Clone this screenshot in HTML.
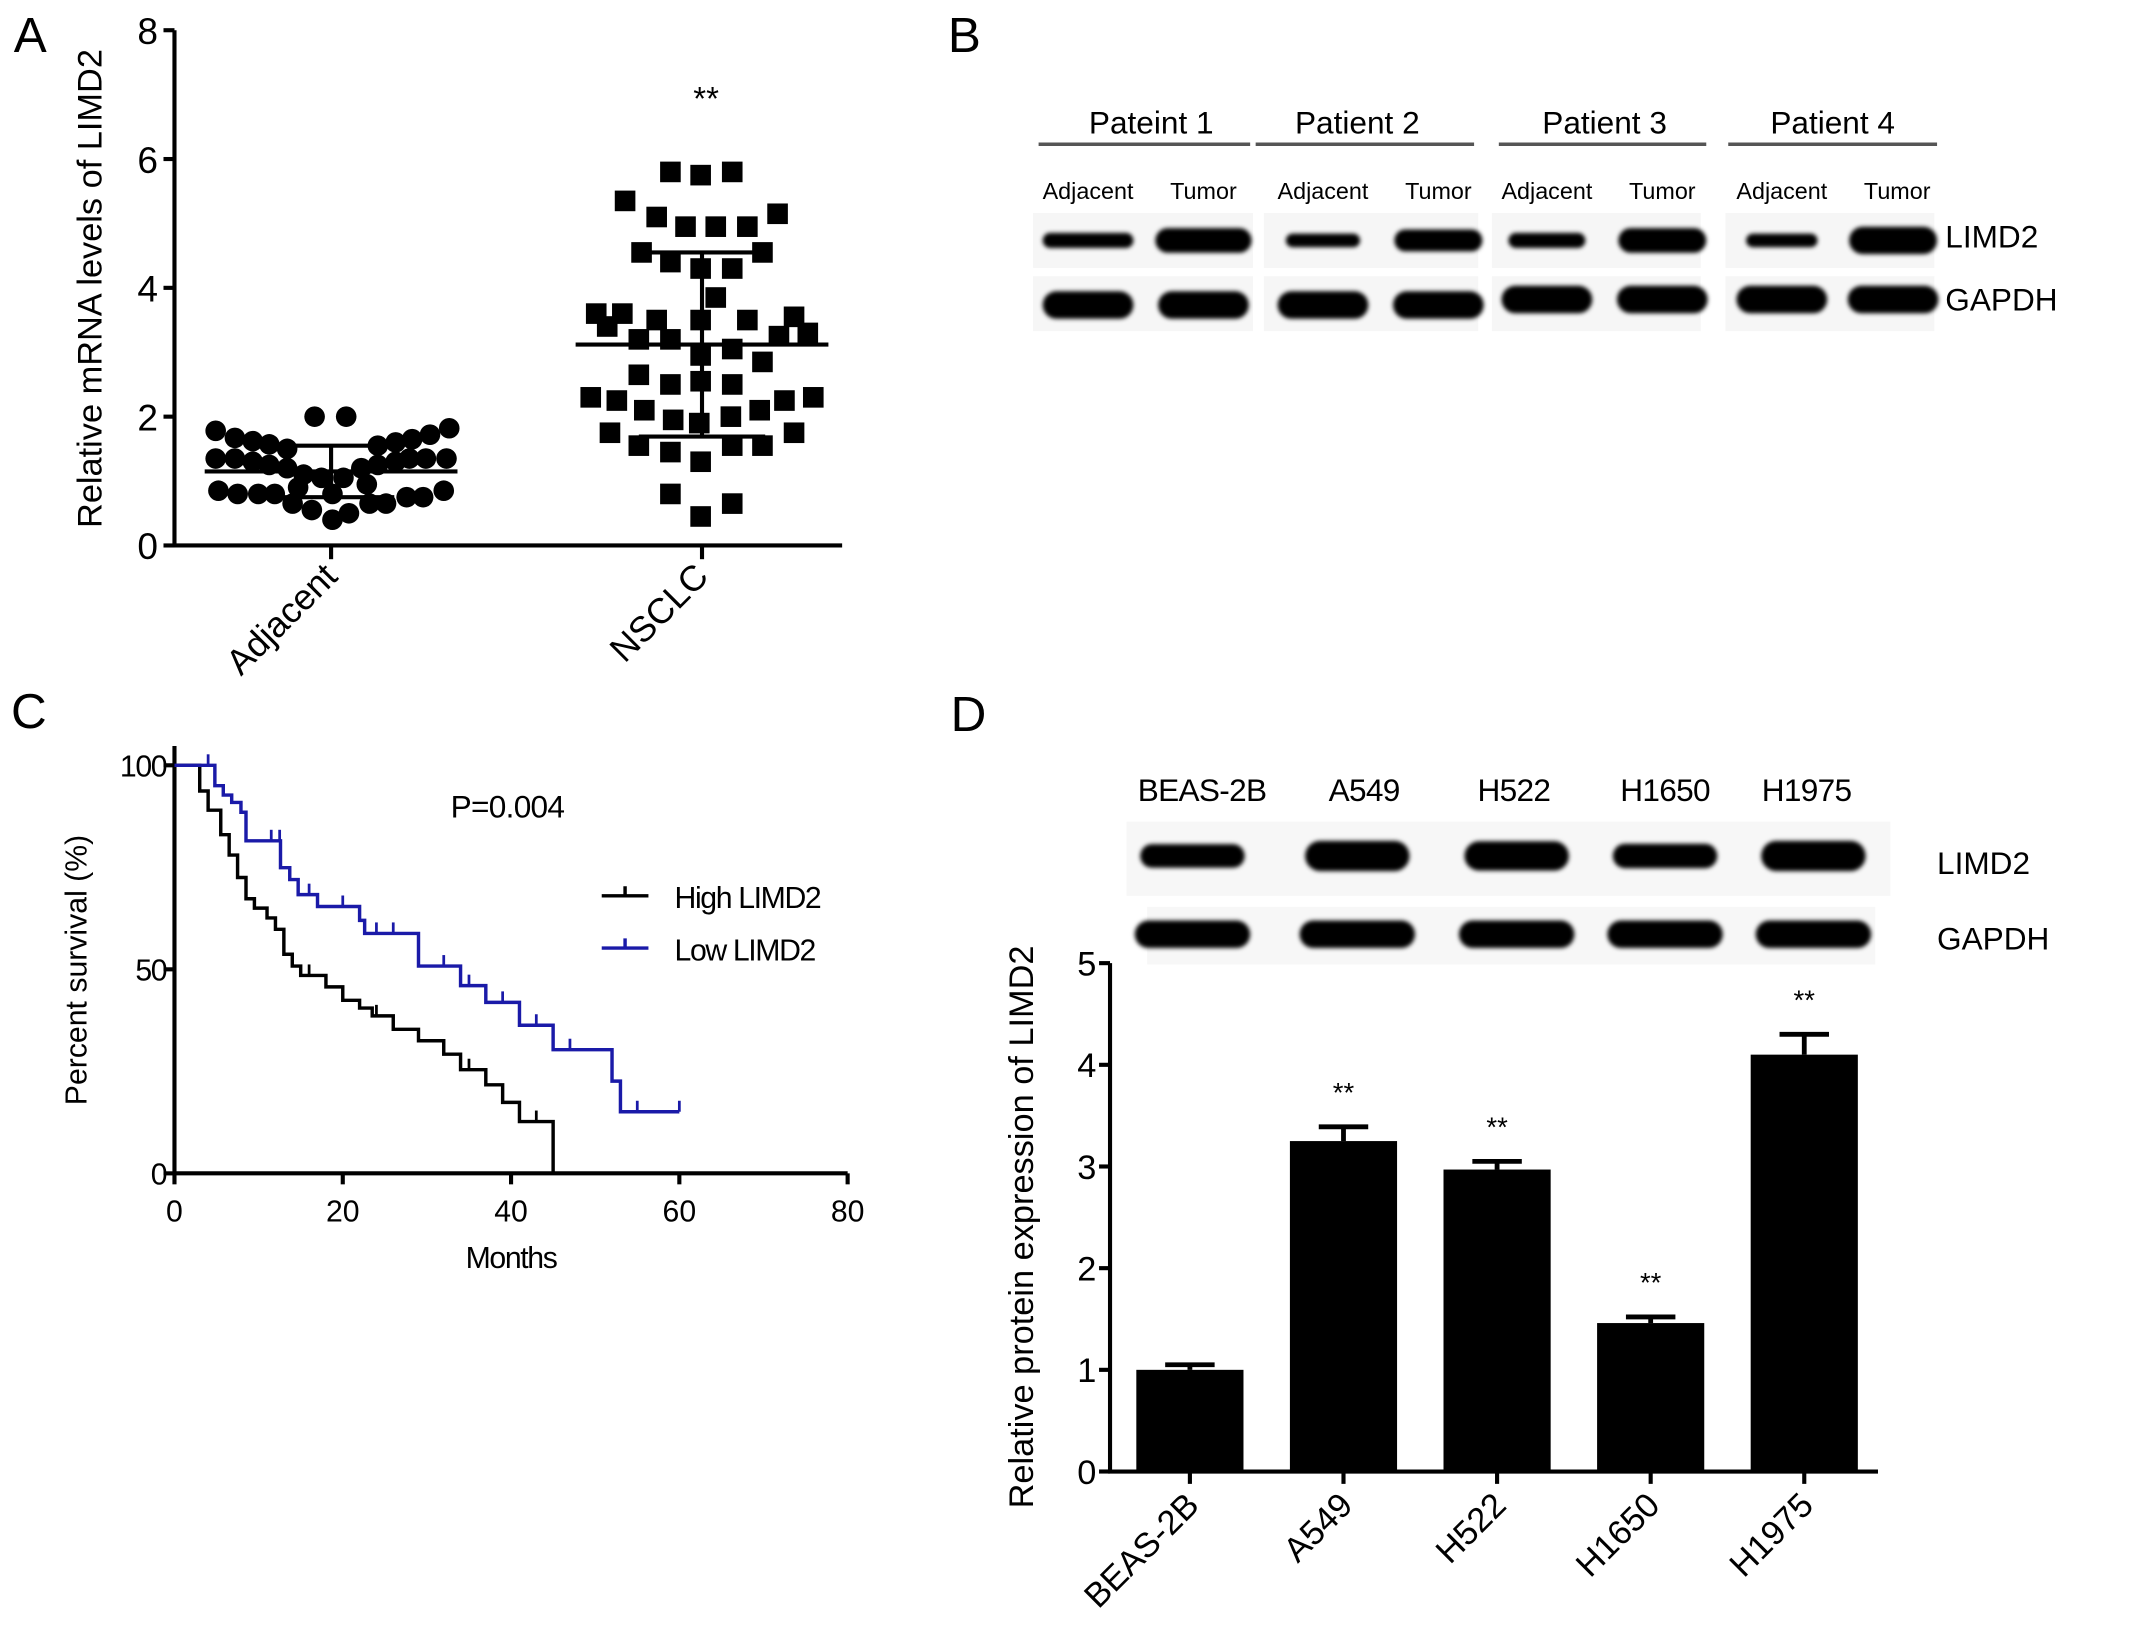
<!DOCTYPE html>
<html><head><meta charset="utf-8"><style>
html,body{margin:0;padding:0;background:#fff;}
svg{display:block;font-family:"Liberation Sans",Arial,sans-serif;}
</style></head><body>
<svg id="fig" width="2150" height="1646" viewBox="0 0 1565 1198" preserveAspectRatio="none" xmlns="http://www.w3.org/2000/svg">
<defs><filter id="blur" x="-20%" y="-50%" width="140%" height="200%"><feGaussianBlur stdDeviation="1.6"/></filter></defs>
<g id="pa"></g>
<g id="pb"></g>
<g id="pc"></g>
<g id="pd"></g>
</svg>
<script>
// ---------- Panel A data ----------
const aCategories = ["Adjacent","NSCLC"];
const aTicks = [0,2,4,6,8];
const adjValues = [1.78,1.82,1.67,1.72,1.62,1.65,1.57,1.6,1.55,1.5,2.0,2.0,1.35,1.35,1.3,1.25,1.2,1.35,1.35,1.35,1.3,1.25,1.2,1.1,1.05,1.05,0.85,0.8,0.8,0.8,0.65,0.55,0.4,0.5,0.65,0.65,0.75,0.75,0.85,0.9,0.95,0.8];
const adjJitter = [-84,86,-70,72,-57,59,-45,47,34,-32,-12,11,-84,-70,-57,-45,-32,69,84,57,47,34,22,-20,-7,9,-82,-68,-53,-41,-28,-14,1,13,28,40,55,67,82,-24,26,1];
const nscValues = [5.8,5.75,5.8,5.35,5.1,4.95,4.95,4.95,5.15,4.55,4.4,4.3,4.3,4.55,3.85,3.6,3.6,3.4,3.5,3.5,3.5,3.55,3.2,3.2,3.25,3.3,2.95,3.05,2.85,2.65,2.5,2.55,2.5,2.3,2.25,2.1,1.95,1.9,2.0,2.1,2.25,2.3,1.75,1.55,1.45,1.3,1.55,1.55,1.75,0.8,0.65,0.45];
const nscJitter = [-23,-1,22,-56,-33,-12,10,33,55,-44,-23,-1,22,44,10,-77,-58,-69,-33,-1,33,67,-46,-23,56,77,-1,22,44,-46,-23,-1,22,-81,-62,-42,-21,-2,21,42,60,81,-67,-46,-23,-1,22,44,67,-23,22,-1];
const aMean = [1.15,3.12];
const aSD = [0.4,1.43];
// ---------- Panel C data ----------
const highT = [0,3,4,5.5,6.5,7.5,8.5,9.5,11,12,13,14,15,18,20,22,23.5,26,29,32,34,37,39,41,45];
const highS = [100,93.7,89,83,78,72.5,67.3,65,62.6,59.8,53.7,50.8,48.5,45.7,42.4,40.5,38.6,35.3,32.5,29.2,25.4,21.7,17.4,12.7,8.5];
const highCensorT = [16,24,35,43];
const lowT = [0,4.8,5.8,6.8,7.9,8.5,12.6,13.7,14.7,17,22,22.6,29,34,37,41,45,52,53];
const lowS = [100,95,92.7,90.9,88.5,81.5,74.9,72,68.3,65.4,62,58.8,50.8,46,41.9,36.3,30.3,22.6,15.1];
const lowCensorT = [4,11.5,12.5,16,20,24,26,32,35,39,43,47,55,60];
const cXTicks = [0,20,40,60,80];
const cYTicks = [0,50,100];
// ---------- Panel D data ----------
const dCategories = ["BEAS-2B","A549","H522","H1650","H1975"];
const dValues = [1.0,3.25,2.97,1.46,4.1];
const dErrors = [0.05,0.14,0.08,0.06,0.2];
const dSig = ["","**","**","**","**"];
const dTicks = [0,1,2,3,4,5];
const limdBand = [0.6,1,0.95,0.65,1];

const NS="http://www.w3.org/2000/svg";
function mk(parent,tag,attrs,text){const e=document.createElementNS(NS,tag);for(const k in attrs)e.setAttribute(k,attrs[k]);if(text!==undefined)e.textContent=text;parent.appendChild(e);return e;}

// ===== Panel A =====
(function(){
const g=document.getElementById('pa');
const x0=127,x1=613,yb=397,yt=22;
const ys=v=>yb-(v/8)*(yb-yt);
const xc=i=>[241,511][i];
let t=mk(g,'text',{x:10,y:38,'font-size':36},'A');


let ax=mk(g,'path',{d:`M${x0},${yt} V${yb} H${x1}`,stroke:'#000','stroke-width':3,fill:'none'});


aTicks.forEach(v=>{
 mk(g,'line',{x1:x0-8,x2:x0,y1:ys(v),y2:ys(v),stroke:'#000','stroke-width':3});
 const l=mk(g,'text',{x:x0-12,y:ys(v)+10,'font-size':27,'text-anchor':'end'},v);
 
 
});
aCategories.forEach((c,i)=>{
 mk(g,'line',{x1:xc(i),x2:xc(i),y1:yb,y2:yb+10,stroke:'#000','stroke-width':3});
 const l=mk(g,'text',{x:xc(i)+6,y:yb+24,'font-size':26,'text-anchor':'end',transform:`rotate(-45 ${xc(i)+6} ${yb+24})`},c);
 
 
});
const yl=mk(g,'text',{x:74,y:210,'font-size':25,'text-anchor':'middle',transform:'rotate(-90 74 210)'},'Relative mRNA levels of LIMD2');


adjValues.forEach((v,i)=>{
 const c=mk(g,'circle',{cx:xc(0)+adjJitter[i],cy:ys(v),r:7.5,fill:'#000'});
 
 
});
nscValues.forEach((v,i)=>{
 const r=mk(g,'rect',{x:xc(1)+nscJitter[i]-7.5,y:ys(v)-7.5,width:15,height:15,fill:'#000'});
 
 
});
[0,1].forEach(i=>{
 const m=aMean[i],s=aSD[i];
 const e=mk(g,'path',{d:`M${xc(i)-92},${ys(m)} H${xc(i)+92} M${xc(i)-46},${ys(m-s)} H${xc(i)+46} M${xc(i)-46},${ys(m+s)} H${xc(i)+46} M${xc(i)},${ys(m-s)} V${ys(m+s)}`,stroke:'#000','stroke-width':3,fill:'none'});
 
 
});
const st=mk(g,'text',{x:xc(1)+3,y:80,'font-size':24,'text-anchor':'middle'},'**');


})();

// ===== Panel B =====
(function(){
const g=document.getElementById('pb');
let t=mk(g,'text',{x:690,y:38,'font-size':36},'B');


const groups=[["Pateint 1",756,910,838],["Patient 2",914,1073,988],["Patient 3",1091,1242,1168],["Patient 4",1258,1410,1334]];
const lanes=[[792,876],[963,1047],[1126,1210],[1297,1378]];
const boxes=[[752,912],[920,1076],[1086,1238],[1256,1408]];
const lim=[[[66,11],[70,18]],[[54,10],[64,16]],[[56,11],[64,18]],[[52,10],[64,20]]];
groups.forEach((gr,i)=>{
 const h=mk(g,'text',{x:gr[3],y:97,'font-size':23,'text-anchor':'middle'},gr[0]);
 
 
 mk(g,'line',{x1:gr[1],x2:gr[2],y1:105,y2:105,stroke:'#555','stroke-width':2.5});
 mk(g,'rect',{x:boxes[i][0],y:155,width:boxes[i][1]-boxes[i][0],height:40,fill:'#f6f6f6'});
 mk(g,'rect',{x:boxes[i][0],y:201,width:boxes[i][1]-boxes[i][0],height:40,fill:'#f6f6f6'});
 ['Adjacent','Tumor'].forEach((nm,j)=>{
  const lx=lanes[i][j];
  const l=mk(g,'text',{x:[[792,876],[963,1047],[1126,1210],[1297,1381]][i][j],y:145,'font-size':17,'text-anchor':'middle'},nm);
  
  
  const w=lim[i][j][0],hh=lim[i][j][1];
  const b=mk(g,'rect',{x:lx-w/2,y:175-hh/2,width:w,height:hh,rx:hh/2,fill:'#000',filter:'url(#blur)'});
  
  
  const ty=i<2?222:218;
  const b2=mk(g,'rect',{x:lx-33,y:ty-10,width:66,height:20,rx:10,fill:'#000',filter:'url(#blur)'});
  
  
 });
});
let a=mk(g,'text',{x:1416,y:180,'font-size':23},'LIMD2');
let b=mk(g,'text',{x:1416,y:226,'font-size':23},'GAPDH');
})();

// ===== Panel C =====
(function(){
const g=document.getElementById('pc');
const x0=127,x1=617,yb=854,yt=557;
const xs=m=>x0+(m/80)*(x1-x0);
const ys=s=>yb-(s/100)*(yb-yt);
let t=mk(g,'text',{x:8,y:530,'font-size':36},'C');


const ax=mk(g,'path',{d:`M${x0},${yt-14} V${yb} H${x1}`,stroke:'#000','stroke-width':3,fill:'none'});


cYTicks.forEach(v=>{
 mk(g,'line',{x1:x0-8,x2:x0,y1:ys(v),y2:ys(v),stroke:'#000','stroke-width':3});
 const l=mk(g,'text',{x:x0-6,y:ys(v)+8,'font-size':22,'text-anchor':'end','letter-spacing':'-1'},v);
 
});
cXTicks.forEach(v=>{
 mk(g,'line',{x1:xs(v),x2:xs(v),y1:yb,y2:yb+8,stroke:'#000','stroke-width':3});
 const l=mk(g,'text',{x:xs(v),y:yb+35,'font-size':22,'text-anchor':'middle'},v);
 
});
let xl=mk(g,'text',{x:372,y:923,'font-size':22,'text-anchor':'middle','letter-spacing':'-1'},'Months');

let yl=mk(g,'text',{x:63,y:706,'font-size':22,'text-anchor':'middle',transform:'rotate(-90 63 706)'},'Percent survival (%)');

function step(T,S,end){let d=`M${xs(T[0])},${ys(S[0])}`;for(let i=1;i<T.length;i++){d+=` H${xs(T[i])} V${ys(S[i])}`;}if(end!==undefined)d+=` H${xs(end)}`;return d;}
function survAt(T,S,t){let s=S[0];for(let i=0;i<T.length;i++)if(T[i]<=t)s=S[i];return s;}
const hp=mk(g,'path',{d:step(highT,highS,undefined)+` V${ys(0)}`,stroke:'#000','stroke-width':2.5,fill:'none'});

highCensorT.forEach(c=>{const s=survAt(highT,highS,c);const e=mk(g,'line',{x1:xs(c),x2:xs(c),y1:ys(s),y2:ys(s)-8,stroke:'#000','stroke-width':2});});
const lp=mk(g,'path',{d:step(lowT,lowS,60),stroke:'#1a1aa8','stroke-width':2.5,fill:'none'});

lowCensorT.forEach(c=>{const s=survAt(lowT,lowS,c);const e=mk(g,'line',{x1:xs(c),x2:xs(c),y1:ys(s),y2:ys(s)-8,stroke:'#1a1aa8','stroke-width':2});});
let p=mk(g,'text',{x:328,y:595,'font-size':23,'letter-spacing':'-0.5'},'P=0.004');

mk(g,'path',{d:'M438,652 H472 M455,652 V645',stroke:'#000','stroke-width':2.5,fill:'none'});
mk(g,'path',{d:'M438,690 H472 M455,690 V683',stroke:'#1a1aa8','stroke-width':2.5,fill:'none'});
let l1=mk(g,'text',{x:491,y:661,'font-size':22,'letter-spacing':'-1'},'High LIMD2');
let l2=mk(g,'text',{x:491,y:699,'font-size':22,'letter-spacing':'-1'},'Low LIMD2');
})();

// ===== Panel D =====
(function(){
const g=document.getElementById('pd');
const x0=808,x1=1367,yb=1071,yt=701;
const ys=v=>yb-(v/5)*(yb-yt);
const bw=(x1-x0)/5;
const xc=i=>x0+bw*(i+0.52);
let t=mk(g,'text',{x:692,y:532,'font-size':36},'D');

mk(g,'rect',{x:820,y:598,width:556,height:54,fill:'#f7f7f7'});
mk(g,'rect',{x:835,y:660,width:530,height:42,fill:'#f7f7f7'});
const laneX=[868,988,1104,1212,1320];
dCategories.forEach((c,i)=>{
 const l=mk(g,'text',{x:[875,993,1102,1212,1315][i],y:583,'font-size':23,'text-anchor':'middle','letter-spacing':'-0.5'},c);
 
 const hh=10+12*limdBand[i];
 const b=mk(g,'rect',{x:laneX[i]-38,y:623-hh/2,width:76,height:hh,rx:hh/2,fill:'#000',filter:'url(#blur)'});
 
 const b2=mk(g,'rect',{x:laneX[i]-42,y:670,width:84,height:20,rx:10,fill:'#000',filter:'url(#blur)'});
 
});
let a=mk(g,'text',{x:1410,y:636,'font-size':23},'LIMD2');
let b=mk(g,'text',{x:1410,y:691,'font-size':23},'GAPDH');
const ax=mk(g,'path',{d:`M${x0},${yt} V${yb} H${x1}`,stroke:'#000','stroke-width':3,fill:'none'});

dTicks.forEach(v=>{
 mk(g,'line',{x1:x0-8,x2:x0,y1:ys(v),y2:ys(v),stroke:'#000','stroke-width':3});
 const l=mk(g,'text',{x:x0-10,y:ys(v)+9,'font-size':25,'text-anchor':'end'},v);
 
});
let yl=mk(g,'text',{x:752,y:893,'font-size':25,'text-anchor':'middle',transform:'rotate(-90 752 893)'},'Relative protein expression of LIMD2');

dValues.forEach((v,i)=>{
 const cx=xc(i);
 const e=mk(g,'path',{d:`M${cx},${ys(v)} V${ys(v+dErrors[i])} M${cx-18},${ys(v+dErrors[i])} H${cx+18}`,stroke:'#000','stroke-width':3.5,fill:'none'});
 
 const r=mk(g,'rect',{x:cx-39,y:ys(v),width:78,height:yb-ys(v),fill:'#000'});
 
 mk(g,'line',{x1:cx,x2:cx,y1:yb,y2:yb+9,stroke:'#000','stroke-width':3});
 const l=mk(g,'text',{x:cx+8,y:yb+26,'font-size':25,'text-anchor':'end',transform:`rotate(-45 ${cx+8} ${yb+26})`},dCategories[i]);
 
 if(dSig[i]){const s=mk(g,'text',{x:cx,y:ys(v+dErrors[i])-18,'font-size':20,'text-anchor':'middle'},dSig[i]);}
});
})();
</script>
</body></html>
